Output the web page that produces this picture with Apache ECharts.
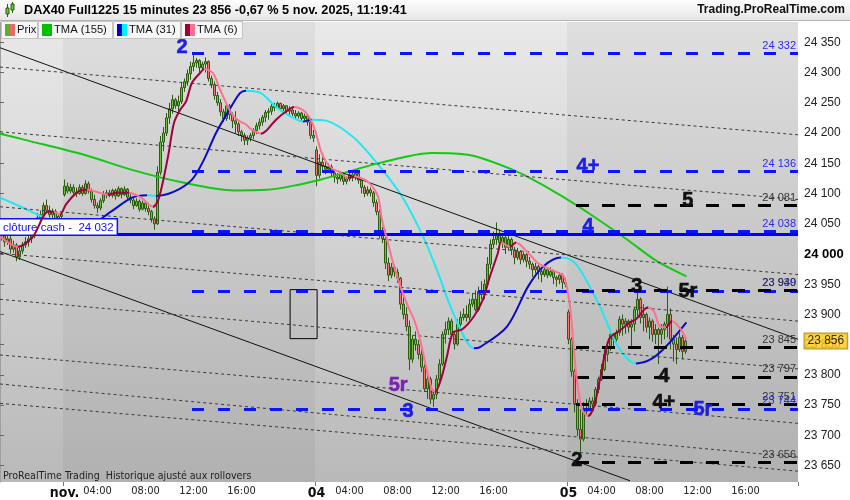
<!DOCTYPE html>
<html><head><meta charset="utf-8">
<script src="https://cdn.jsdelivr.net/npm/echarts@6.0.0/dist/echarts.min.js"></script>
<style>html,body{margin:0;padding:0;background:#fff;}#chart{width:850px;height:500px;}</style>
</head><body><div id="chart"></div>
<script>
// ---------- DATA ----------
// trading sessions on the axis (date, first bar, last bar) – 15 minute bars
const sessions = [['31/10','17:00','22:00'],['03/11','01:15','22:00'],['04/11','01:15','22:00'],['05/11','01:15','20:15']];
const dayTickLabels = {'03/11':'nov.','04/11':'04','05/11':'05'};
const timeTickLabels = ['04:00','08:00','12:00','16:00'];

// OHLC rows [open, high, low, close]
const ohlcOct31 = [
[24035,24045,24022,24030],[24030,24038,24012,24020],[24020,24035,24015,24025],[24025,24030,24000,24008],
[24008,24022,24002,24015],[24015,24018,23988,23995],[23995,24012,23990,24005],[24005,24020,24000,24015],
[24015,24028,24010,24020],[24020,24032,24012,24025],[24025,24040,24018,24030],[24030,24058,24026,24050],
[24050,24068,24044,24060],[24060,24072,24050,24065],[24065,24085,24060,24080],[24080,24090,24068,24072],
[24072,24080,24060,24065],[24065,24075,24055,24070],[24070,24074,24052,24058],[24058,24068,24050,24062],
[24062,24070,24056,24065]];
const ohlcNov3 = [
[24098,24123,24095,24112],[24112,24118,24100,24104],[24104,24116,24100,24110],[24110,24115,24098,24102],
[24102,24110,24094,24100],[24100,24115,24098,24110],[24110,24114,24096,24100],[24100,24122,24098,24116],
[24116,24120,24100,24104],[24104,24108,24085,24090],[24090,24098,24075,24080],[24080,24085,24068,24076],
[24076,24092,24072,24088],[24088,24104,24084,24098],[24098,24106,24092,24101],[24101,24106,24094,24097],
[24097,24108,24093,24105],[24105,24108,24090,24096],[24096,24112,24094,24108],[24108,24110,24092,24098],
[24098,24112,24096,24107],[24107,24109,24090,24094],[24094,24100,24084,24089],[24089,24094,24074,24080],
[24080,24092,24078,24087],[24087,24090,24070,24074],[24074,24088,24072,24084],[24084,24087,24070,24075],
[24075,24080,24064,24070],[24070,24073,24052,24058],[24058,24062,24040,24050],[24050,24145,24048,24135],
[24135,24195,24130,24185],[24185,24210,24170,24200],[24200,24233,24195,24225],[24225,24250,24215,24240],
[24240,24263,24232,24255],[24255,24258,24240,24245],[24245,24262,24232,24252],[24252,24283,24248,24275],
[24275,24290,24268,24285],[24285,24305,24278,24298],[24298,24318,24288,24310],[24310,24330,24302,24316],
[24316,24324,24308,24320],[24320,24322,24300,24308],[24308,24318,24304,24314],[24314,24325,24300,24318],
[24318,24320,24285,24290],[24290,24295,24274,24280],[24280,24285,24255,24262],[24262,24268,24245,24250],
[24250,24256,24228,24235],[24235,24240,24218,24224],[24224,24250,24220,24245],[24245,24248,24222,24230],
[24230,24234,24208,24220],[24220,24236,24200,24215],[24215,24218,24195,24202],[24202,24205,24186,24196],
[24196,24200,24180,24188],[24188,24196,24180,24192],[24192,24200,24186,24196],[24196,24208,24190,24204],
[24204,24217,24198,24212],[24212,24224,24206,24218],[24218,24230,24212,24226],[24226,24238,24218,24234],
[24234,24241,24222,24236],[24236,24248,24230,24244],[24244,24250,24236,24242],[24242,24252,24240,24249],
[24249,24250,24236,24240],[24240,24248,24236,24245],[24245,24246,24230,24236],[24236,24244,24230,24238],
[24238,24242,24228,24232],[24232,24238,24222,24228],[24228,24236,24224,24233],[24233,24235,24218,24224],
[24224,24232,24220,24228],[24228,24230,24212,24218],[24218,24222,24190,24196],[24196,24205,24185,24192]];
const ohlcNov4 = [
[24172,24178,24112,24130],[24130,24165,24125,24152],[24152,24160,24138,24145],[24145,24152,24132,24140],
[24140,24150,24134,24144],[24144,24148,24128,24134],[24134,24138,24118,24127],[24127,24134,24116,24124],
[24124,24136,24120,24131],[24131,24133,24114,24120],[24120,24128,24115,24124],[24124,24136,24120,24131],
[24131,24134,24120,24126],[24126,24137,24122,24133],[24133,24135,24116,24122],[24122,24124,24100,24110],
[24110,24114,24094,24100],[24100,24112,24096,24106],[24106,24110,24095,24101],[24101,24104,24078,24085],
[24085,24090,24064,24070],[24070,24074,24026,24035],[24035,24045,24018,24025],[24025,24030,23975,23985],
[23985,23994,23955,23965],[23965,23985,23960,23978],[23978,23982,23962,23970],[23970,23976,23952,23960],
[23960,23962,23908,23917],[23917,23930,23892,23900],[23900,23912,23872,23880],[23880,23890,23808,23826],
[23826,23865,23820,23859],[23859,23872,23840,23850],[23850,23858,23826,23834],[23834,23842,23805,23813],
[23813,23818,23772,23777],[23777,23800,23760,23793],[23793,23797,23752,23760],[23760,23776,23747,23768],
[23768,23800,23760,23793],[23793,23826,23786,23818],[23818,23872,23815,23867],[23867,23888,23852,23875],
[23875,23895,23866,23889],[23889,23893,23860,23867],[23867,23872,23842,23851],[23851,23892,23848,23884],
[23884,23905,23880,23895],[23895,23910,23890,23900],[23900,23915,23888,23895],[23895,23926,23890,23917],
[23917,23935,23912,23925],[23925,23940,23905,23908],[23908,23946,23905,23938],[23938,23955,23925,23933],
[23933,23958,23925,23950],[23950,23995,23945,23983],[23983,24024,23975,24016],[24016,24037,24010,24024],
[24024,24052,24015,24032],[24032,24040,24015,24019],[24019,24035,24010,24027],[24027,24030,24000,24011],
[24011,24035,24006,24024],[24024,24027,23998,24007],[24007,24012,23983,23994],[23994,24010,23990,24004],
[24004,24006,23983,23991],[23991,24004,23986,23999],[23999,24001,23978,23988],[23988,23995,23975,23983],
[23983,23986,23962,23974],[23974,23985,23968,23979],[23979,23982,23958,23971],[23971,23975,23953,23966],
[23966,23980,23962,23974],[23974,23976,23960,23965],[23965,23978,23962,23971],[23971,23974,23950,23961],
[23961,23964,23946,23958],[23958,23970,23950,23965],[23965,23968,23942,23953],[23953,23960,23945,23950]];
const ohlcNov5 = [
[23904,23908,23851,23859],[23859,23862,23797,23806],[23806,23810,23738,23752],[23752,23760,23699,23710],
[23710,23743,23673,23694],[23694,23755,23690,23740],[23740,23760,23735,23743],[23743,23763,23740,23757],
[23757,23763,23742,23752],[23752,23780,23748,23776],[23776,23797,23770,23793],[23793,23818,23790,23809],
[23809,23842,23806,23834],[23834,23853,23822,23846],[23846,23872,23840,23867],[23867,23869,23845,23859],
[23859,23875,23855,23870],[23870,23897,23865,23892],[23892,23900,23865,23884],[23884,23894,23868,23889],
[23889,23892,23870,23879],[23879,23892,23843,23884],[23884,23912,23872,23908],[23908,23936,23897,23925],
[23925,23928,23885,23895],[23895,23917,23872,23900],[23900,23903,23870,23879],[23879,23895,23859,23889],
[23889,23892,23855,23867],[23867,23884,23851,23875],[23875,23878,23818,23867],[23867,23884,23851,23875],
[23875,23888,23859,23884],[23884,23946,23862,23900],[23900,23910,23842,23859],[23859,23866,23822,23851],
[23851,23862,23818,23842],[23842,23870,23838,23862],[23862,23866,23826,23839],[23839,23860,23835,23856]];

// Triangular moving averages: [bar position, price]
const tma155 = [[0,24199],[8,24189],[28,24164],[44,24139],[61,24118],[78,24105],[89,24106],[100,24115],[107,24123],
[127,24151],[144,24167],[156,24164],[171,24139],[182,24111],[193,24078],[209,24024],[219,23988],[228.8,23963]];
const tma31 = [[0,24093],[7,24078],[13,24064],[20,24050],[25,24044],[29,24045],[37,24070],[44,24093],[49,24097],
[52,24096],[58,24103],[64,24123],[68,24156],[72,24200],[77,24243],[80,24266],[82,24270],[87,24266],[92,24243],
[97,24227],[101,24219],[104,24222],[109,24220],[118,24192],[126,24148],[134,24095],[141,24029],[146,23969],
[151,23903],[158,23844],[160,23846],[169,23880],[176,23946],[181,23979],[187,23994],[191,23988],[194,23969],
[200,23913],[206,23847],[212,23819],[217,23826],[222,23847],[228.8,23887]];
const tma6 = [[0,24029],[6,24012],[11,24029],[16,24070],[18,24070],[20,24065],[22,24082],[26,24103],[29,24106],
[32,24103],[36,24098],[39,24101],[43,24101],[47,24093],[51,24078],[53,24093],[56,24161],[58,24217],[60,24238],
[62,24252],[64,24283],[67,24301],[68,24306],[71,24299],[73,24276],[76,24243],[78,24227],[80,24219],[82,24214],
[84,24205],[87,24199],[89,24205],[92,24222],[96,24238],[98,24243],[101,24238],[103,24227],[105,24205],[107,24170],
[109,24150],[111,24140],[113,24136],[116,24126],[118,24128],[120,24126],[123,24118],[126,24095],[127.3,24057],
[129,24024],[131,23986],[133,23953],[136,23913],[138,23892],[140,23859],[142,23814],[144,23776],[145,23772],
[147,23793],[149,23831],[151,23870],[154,23875],[158,23897],[161,23925],[163,23958],[166,24002],[167,24019],
[170,24012],[172,24019],[176,24002],[179,23986],[182,23978],[186,23969],[188,23963],[190,23913],[192,23804],
[194,23743],[196,23732],[198,23748],[200,23793],[203,23859],[207,23875],[210,23887],[212,23892],[216,23912],
[218,23905],[220,23880],[222,23879],[224,23889],[227,23875],[228.8,23859]];

// horizontal levels
const blueLevels = [24332, 24136, 24038, 23939, 23744];
const blackLevels = [24081, 23940, 23845, 23797, 23751, 23656];
const blueLevelsFrom = '03/11 12:00';
const blackLevelsFrom = '05/11 02:00';
const cashClose = 24032;
const lastPrice = 23856;

// drawn trend lines: [[bar, price], [bar, price]]
const solidTrendLines = [[[0,24341],[266,23859]], [[0,24004],[210,23625]]];
const dottedTrendLines = [
[[0,24309],[266,24197]], [[0,24202],[266,24090]], [[0,24078],[266,23966]], [[0,24001],[266,23889]],
[[0,23925],[266,23810]], [[0,23833],[266,23720]], [[0,23785],[266,23664]], [[0,23753],[266,23641]]];
const drawnRectangle = [[96.7,23941],[105.7,23860]];

// wave annotations [bar, price, text]
const blueWaveLabels = [[60.7,24342,'2'],[196,24144,'4+'],[196,24045,'4'],[136,23740,'3'],[234.3,23743,'5r']];
const blackWaveLabels = [[212.3,23946,'3'],[229.3,23938,'5r'],[229.3,24088,'5'],[221.3,23798,'4'],[221.3,23755,'4+'],[192.3,23658,'2']];
const purpleWaveLabels = [[132.7,23782,'5r']];

// ---------- BUILD ----------
function toMin(t){const p=t.split(':');return (+p[0])*60+(+p[1]);}
function pad(n){return (n<10?'0':'')+n;}
const categories = [];
sessions.forEach(s=>{for(let m=toMin(s[1]);m<=toMin(s[2]);m+=15){categories.push(s[0]+' '+pad(Math.floor(m/60))+':'+pad(m%60));}});
const nBars = categories.length;
const ohlc = ohlcOct31.concat(ohlcNov3, ohlcNov4, ohlcNov5);
const candleData = ohlc.map(r=>[r[0], r[3], Math.min(r[2],r[0],r[3]), Math.max(r[1],r[0],r[3])]);
const fmt = v => String(v).replace(/\B(?=(\d{3})+(?!\d))/g,' ');
const FONT = '"Liberation Sans", Arial, sans-serif';
const NARROW = '"Liberation Sans Narrow", "DejaVu Sans Condensed", Arial, sans-serif';

const dayStarts = [];
categories.forEach((c,i)=>{ if(c.endsWith('01:15')) dayStarts.push(i); });
const bands = [];
dayStarts.forEach((s,k)=>{ if(k%2===0){ const e = k+1<dayStarts.length ? dayStarts[k+1] : nBars; bands.push([{xAxis:s},{xAxis:e}]); }});

const blueFrom = categories.indexOf(blueLevelsFrom);
const blackFrom = categories.indexOf(blackLevelsFrom);
const levelLines = [];
blueLevels.forEach(v=>levelLines.push([{coord:[blueFrom,v],lineStyle:{color:'#0a14ff',width:3,type:[12,14]},
  label:{show:true,position:'insideEndTop',formatter:fmt(v),color:'#2a2af0',fontSize:11,fontFamily:FONT,distance:2}},{coord:[nBars,v]}]));
blackLevels.forEach(v=>levelLines.push([{coord:[blackFrom,v],lineStyle:{color:'#000',width:3,type:[13,13]},
  label:{show:true,position:'insideEndTop',formatter:fmt(v),color:'#333',fontSize:11,fontFamily:FONT,distance:2}},{coord:[nBars,v]}]));
levelLines.push([{coord:[0,cashClose],lineStyle:{color:'#0000ff',width:3,type:'solid'},
  label:{show:true,position:'insideStartTop',formatter:'clôture cash -  '+fmt(cashClose),color:'#1010ff',fontSize:11.5,fontFamily:FONT,
  backgroundColor:'#fff',borderColor:'#1010ff',borderWidth:1.5,padding:[2,3,1,3],distance:[0,0]}},{coord:[nBars,cashClose]}]);

const trendItems = [];
solidTrendLines.forEach(l=>trendItems.push([{coord:l[0],lineStyle:{color:'#111',width:1,type:'solid'}},{coord:l[1]}]));
dottedTrendLines.forEach(l=>trendItems.push([{coord:l[0],lineStyle:{color:'#3a3a3a',width:1,type:[3,3]}},{coord:l[1]}]));

const r0 = drawnRectangle[0], r1 = drawnRectangle[1];
const rectPath = [[r0[0],r0[1]],[r1[0],r0[1]],[r1[0],r1[1]],[r0[0],r1[1]],[r0[0],r0[1]]];

function dirPieces(pts, up, down){
  const pieces=[];
  for(let k=0;k<pts.length-1;k++){
    const col = pts[k+1][1] >= pts[k][1] ? up : down;
    const last = pieces[pieces.length-1];
    if(last && last.color===col) last.lt = pts[k+1][0];
    else pieces.push({gte:pts[k][0], lt:pts[k+1][0], color:col});
  }
  pieces[0].gte=-100; pieces[pieces.length-1].lt=1000;
  return pieces;
}
function waveSeries(list,color){
  return {type:'line',xAxisIndex:1,yAxisIndex:0,data:[],z:8,silent:true,
    markPoint:{silent:true,symbol:'circle',symbolSize:0,
      data:list.map(w=>({coord:[w[0],w[1]],value:w[2]})),
      label:{show:true,position:'inside',formatter:'{c}',color:color,fontSize:20,fontWeight:'bold',fontFamily:FONT,
        textBorderColor:color,textBorderWidth:0.6}}};
}

const series = [];
series.push({type:'line',xAxisIndex:1,yAxisIndex:0,data:[],z:0,silent:true,
  markArea:{silent:true,itemStyle:{color:'rgba(0,0,0,0.045)'},data:bands}});
series.push({type:'line',xAxisIndex:1,yAxisIndex:0,data:[],z:1,silent:true,
  markLine:{silent:true,symbol:['none','none'],label:{show:false},data:trendItems}});
series.push({type:'line',xAxisIndex:1,yAxisIndex:0,z:1,silent:true,symbol:'none',data:rectPath,lineStyle:{color:'#000',width:1}});
series.push({type:'candlestick',xAxisIndex:0,yAxisIndex:0,z:3,barWidth:2.4,data:candleData,
  itemStyle:{color:'#66c23a',color0:'#ee7b6d',borderColor:'#2c5c12',borderColor0:'#2c5c12',borderWidth:1}});
const iTma155 = series.length;
series.push({type:'line',xAxisIndex:1,yAxisIndex:0,z:4,symbol:'none',smooth:0.3,data:tma155,lineStyle:{width:2,color:'#14c814'}});
const iTma31 = series.length;
series.push({type:'line',xAxisIndex:1,yAxisIndex:0,z:4,symbol:'none',smooth:0.3,data:tma31,lineStyle:{width:2}});
const iTma6 = series.length;
series.push({type:'line',xAxisIndex:1,yAxisIndex:0,z:5,symbol:'none',smooth:0.3,data:tma6,lineStyle:{width:2}});
series.push({type:'line',xAxisIndex:1,yAxisIndex:0,data:[],z:6,silent:true,
  markLine:{silent:true,symbol:['none','none'],data:levelLines}});
series.push(waveSeries(blueWaveLabels,'#1e1ee8'));
series.push(waveSeries(blackWaveLabels,'#111'));
series.push(waveSeries(purpleWaveLabels,'#7a22b6'));
series.push({type:'scatter',xAxisIndex:1,yAxisIndex:0,z:9,symbolSize:1,clip:false,itemStyle:{color:'rgba(0,0,0,0)'},
  data:[[nBars,lastPrice]],label:{show:true,position:'right',distance:6,formatter:fmt(lastPrice),color:'#000',fontSize:12,fontFamily:FONT,
  backgroundColor:'#ffc81e',borderColor:'#a08000',borderWidth:1,padding:[2,3,1,3]}});

const grad = (a,b)=>new echarts.graphic.LinearGradient(0,0,0,1,[{offset:0,color:a},{offset:1,color:b}]);
const legendItems = [
  {x:1,w:36,c1:'#5cb030',c2:'#e86a60',t:'Prix'},
  {x:38,w:74,c1:'#00c000',c2:'#00c000',t:'TMA (155)'},
  {x:113,w:67,c1:'#0000c8',c2:'#00f0ff',t:'TMA (31)'},
  {x:181,w:61,c1:'#a0003a',c2:'#ff6f91',t:'TMA (6)'}];
const graphics = [
  {type:'rect',shape:{x:0,y:0,width:850,height:20},style:{fill:grad('#fdfdfd','#e6e6e6')},z:10},
  {type:'line',shape:{x1:0,y1:20.5,x2:850,y2:20.5},style:{stroke:'#b4b4b4',lineWidth:1},z:10},
  {type:'line',shape:{x1:7.5,y1:4,x2:7.5,y2:17},style:{stroke:'#2c5c12',lineWidth:1},z:11},
  {type:'rect',shape:{x:6,y:8,width:3,height:6},style:{fill:'#66c23a',stroke:'#2c5c12',lineWidth:1},z:11},
  {type:'line',shape:{x1:12.5,y1:2,x2:12.5,y2:13},style:{stroke:'#2c5c12',lineWidth:1},z:11},
  {type:'rect',shape:{x:11,y:4,width:3,height:6},style:{fill:'#66c23a',stroke:'#2c5c12',lineWidth:1},z:11},
  {type:'text',x:24,y:10,style:{text:'DAX40 Full1225 15 minutes 23 856 -0,67 % 5 nov. 2025, 11:19:41',font:'bold 12.7px '+FONT,fill:'#000',verticalAlign:'middle'},z:11},
  {type:'text',x:845,y:10,style:{text:'Trading.ProRealTime.com',font:'bold 12px '+FONT,fill:'#111',align:'right',verticalAlign:'middle'},z:11},
  {type:'text',x:3,y:476,style:{text:'ProRealTime Trading  Historique ajusté aux rollovers',font:'10.6px '+NARROW,fill:'#222',verticalAlign:'middle'},z:11}
];
legendItems.forEach(l=>{
  graphics.push({type:'rect',shape:{x:l.x+0.5,y:21.5,width:l.w,height:17},style:{fill:'#f6f6f6',stroke:'#c4c4c4',lineWidth:1},z:11});
  graphics.push({type:'rect',shape:{x:l.x+4,y:24,width:5,height:12},style:{fill:l.c1},z:12});
  graphics.push({type:'rect',shape:{x:l.x+9,y:24,width:5,height:12},style:{fill:l.c2},z:12});
  graphics.push({type:'text',x:l.x+16,y:30,style:{text:l.t,font:'11.2px '+FONT,fill:'#111',verticalAlign:'middle'},z:12});
});

const option = {
  animation:false,
  backgroundColor:'#fff',
  grid:{left:0,right:52,top:22,bottom:17,show:true,borderWidth:0,backgroundColor:grad('#e9e9e9','#b9b9b9')},
  xAxis:[
    {type:'category',data:categories,boundaryGap:true,axisLine:{show:false},
     axisTick:{show:true,interval:(i,v)=>v.endsWith('01:15'),length:4,lineStyle:{color:'#777'}},
     axisLabel:{interval:(i,v)=>v.endsWith('01:15')||timeTickLabels.indexOf(v.split(' ')[1])>=0,margin:4,
       formatter:v=>{const p=v.split(' ');return p[1]==='01:15'?'{d|'+dayTickLabels[p[0]]+'}':'{t|'+p[1]+'}';},
       rich:{d:{fontFamily:NARROW,fontWeight:'bold',fontSize:14,color:'#111'},t:{fontFamily:NARROW,fontSize:11,color:'#222'}}},
     splitLine:{show:false}},
    {type:'value',min:0,max:nBars,show:false}
  ],
  yAxis:[{type:'value',position:'right',min:23623,max:24383.5,splitNumber:15,
    axisLine:{show:true,lineStyle:{color:'#a0a0a0'}},
    axisTick:{show:true,length:4,lineStyle:{color:'#666'}},
    axisLabel:{showMinLabel:false,showMaxLabel:false,margin:6,color:'#222',fontSize:12,fontFamily:FONT,
      formatter:v=>{if(Math.round(v)%50!==0) return ''; const s=fmt(Math.round(v)); return Math.round(v)===24000?'{b|'+s+'}':s;},
      rich:{b:{fontWeight:'bold',fontSize:13,color:'#000',fontFamily:FONT}}},
    splitLine:{show:false}}],
  visualMap:[
    {type:'piecewise',show:false,dimension:0,seriesIndex:iTma31,pieces:dirPieces(tma31,'#0a0ac8','#1ee8f2')},
    {type:'piecewise',show:false,dimension:0,seriesIndex:iTma6,pieces:dirPieces(tma6,'#a0003a','#ff6f91')}
  ],
  graphic:graphics,
  series:series
};
echarts.init(document.getElementById('chart'),null,{renderer:'canvas'}).setOption(option);
</script></body></html>
